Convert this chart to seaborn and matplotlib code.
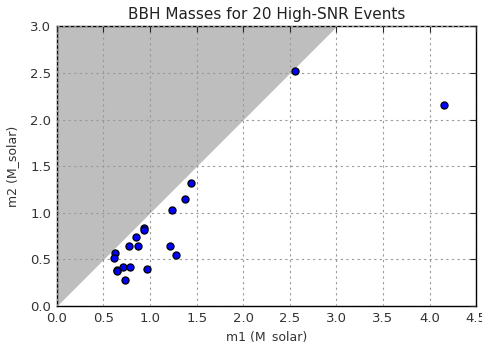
import matplotlib
matplotlib.use("Agg")
import matplotlib.pyplot as plt
import seaborn as sns
import pandas as pd

# Component masses (solar masses) of the 20 loudest BBH events
m1 = [1.44, 1.37, 1.24, 0.93, 0.93, 0.85, 0.77, 0.87, 1.21, 1.28,
      0.62, 0.61, 0.64, 0.65, 0.71, 0.79, 0.97, 0.73, 2.55, 4.15]
m2 = [1.32, 1.15, 1.03, 0.84, 0.81, 0.74, 0.64, 0.64, 0.64, 0.55,
      0.57, 0.52, 0.39, 0.37, 0.42, 0.42, 0.40, 0.28, 2.52, 2.16]

x_ticks = [0.0, 0.5, 1.0, 1.5, 2.0, 2.5, 3.0, 3.5, 4.0, 4.5]
y_ticks = [0.0, 0.5, 1.0, 1.5, 2.0, 2.5, 3.0]

df = pd.DataFrame({"m1": m1, "m2": m2})

sns.set_style("white")
plt.rcParams["font.family"] = ["DejaVu Sans"]

fig = plt.figure(figsize=(4.82, 3.43), dpi=100)
ax = fig.add_axes([0.118, 0.108, 0.870, 0.815])

# Region m2 > m1 is excluded by convention
ax.fill_between([0, 3], [0, 3], [3, 3], color="#bebebe", linewidth=0, zorder=0)

sns.scatterplot(data=df, x="m1", y="m2", ax=ax, color="#0000ff",
                edgecolor="black", linewidth=0.9, s=26, zorder=3)

ax.set_xlim(0, 4.5)
ax.set_ylim(0, 3.0)
ax.set_xticks(x_ticks)
ax.set_yticks(y_ticks)
ax.set_xticklabels([f"{v:.1f}" for v in x_ticks])
ax.set_yticklabels([f"{v:.1f}" for v in y_ticks])

ax.grid(True, color="0.6", linestyle=(0, (2, 3)), linewidth=0.8, zorder=1)
ax.set_axisbelow(False)
for sp in ax.spines.values():
    sp.set_visible(True)
    sp.set_color("black")
    sp.set_linewidth(1.0)

ax.tick_params(axis="both", direction="in", length=4, width=0.8,
               top=True, right=True, labelsize=9.5, labelcolor="#333333",
               pad=4)

ax.set_xlabel("m1 (M_solar)", fontsize=9, color="#333333", labelpad=4)
ax.set_ylabel("m2 (M_solar)", fontsize=9, color="#333333", labelpad=8)
ax.set_title("BBH Masses for 20 High-SNR Events", fontsize=11, color="#222222", pad=5)

fig.savefig("out.png", dpi=100, facecolor="white")
